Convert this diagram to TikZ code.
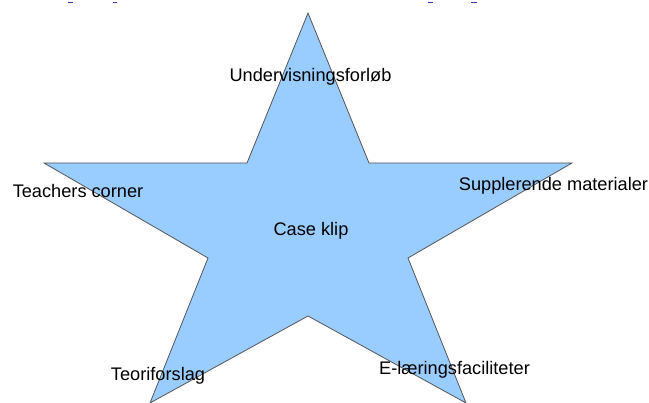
\documentclass[tikz,border=0pt]{standalone}
\usepackage{fontspec}
\setmainfont{Liberation Sans}
\definecolor{starfill}{HTML}{99CCFF}
\definecolor{starline}{HTML}{555555}
\definecolor{tickcol}{HTML}{4433AA}
\begin{document}
\begin{tikzpicture}[x=1pt,y=-1pt,
  lbl/.style={font=\fontsize{18.2}{21}\selectfont, inner sep=0pt, text=black},
  tick/.style={draw=tickcol, line width=1pt}]
\useasboundingbox (0,0) rectangle (649,403);
\begin{scope}
\clip (0,0) rectangle (649,403);
\fill[white] (0,0) rectangle (649,403);
\draw[fill=starfill, draw=starline, line width=0.8pt, line join=miter]
  (308,13) -- (369,163) -- (572,163) -- (408,258) -- (466,403) -- (308,316)
  -- (150,403) -- (208,258) -- (44,163) -- (247,163) -- cycle;
\end{scope}
\draw[tick] (68,3) -- (73,3);
\draw[tick] (113,3) -- (117,3);
\draw[tick] (428,3) -- (433,3);
\draw[tick] (471,3) -- (477,3);
\node[lbl] (under) at (310.5,76.5) {Undervisningsforløb};
\node[lbl] (teach) at (78,190.5) {Teachers corner};
\node[lbl] (case) at (311,230.5) {Case klip};
\node[lbl] (suppl) at (553.5,185.5) {Supplerende materialer};
\node[lbl] (teori) at (158,375.5) {Teoriforslag};
\node[lbl] (elaer) at (454.5,369.5) {E-læringsfaciliteter};
\end{tikzpicture}
\end{document}
